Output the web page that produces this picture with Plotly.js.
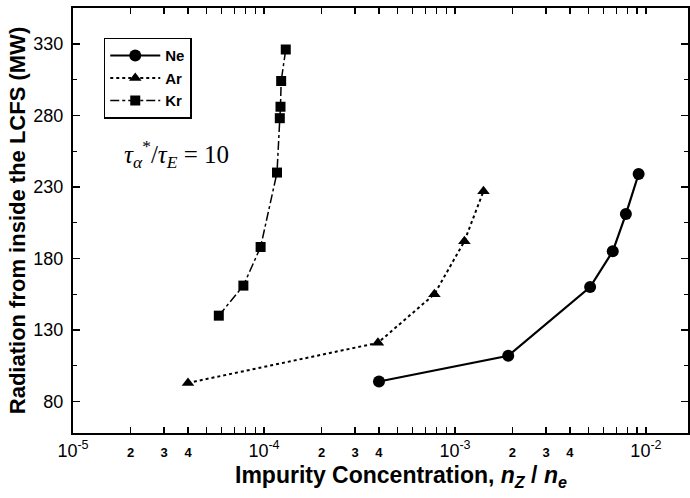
<!DOCTYPE html>
<html>
<head>
<meta charset="utf-8">
<script src="https://cdn.plot.ly/plotly-3.0.1.min.js"></script>
<style>html,body{margin:0;padding:0;background:#fff;}#chart{width:690px;height:498px;}</style>
</head>
<body>
<div id="chart"></div>
<script>
// Data
const neX = [4.0e-4, 1.9e-3, 5.1e-3, 6.7e-3, 7.85e-3, 9.15e-3];
const neY = [94, 112, 160, 185, 211, 239];
const arX = [4.0e-5, 3.95e-4, 7.8e-4, 1.12e-3, 1.41e-3];
const arY = [93, 121, 155, 192, 227];
const krX = [5.8e-5, 7.8e-5, 9.6e-5, 1.17e-4, 1.21e-4, 1.22e-4, 1.23e-4, 1.30e-4];
const krY = [140, 161, 188, 240, 278, 286, 304, 326];

const D = (s) => '<span style="font-size:13px"><b>' + s + '</b></span>';
const P = (e) => '10<sup>' + e + '</sup>';
const xTickVals = [1e-5,2e-5,3e-5,4e-5,5e-5,6e-5,7e-5,8e-5,9e-5,
                   1e-4,2e-4,3e-4,4e-4,5e-4,6e-4,7e-4,8e-4,9e-4,
                   1e-3,2e-3,3e-3,4e-3,5e-3,6e-3,7e-3,8e-3,9e-3,
                   1e-2,2e-2];
const xTickText = [P("-5"),D("2"),D("3"),D("4"),"","","","","",
                   P("-4"),D("2"),D("3"),D("4"),"","","","","",
                   P("-3"),D("2"),D("3"),D("4"),"","","","","",
                   P("-2"),""];
const yTickVals = [80,130,180,230,280,330];

const font = "Liberation Sans, Arial, sans-serif";

const traces = [
  {x: neX, y: neY, name: "Ne", mode: "lines+markers", type: "scatter",
   line: {color: "black", width: 2.2, dash: "solid"},
   marker: {symbol: "circle", size: 12, color: "black"}},
  {x: arX, y: arY, name: "Ar", mode: "lines+markers", type: "scatter",
   line: {color: "black", width: 2, dash: "dot"},
   marker: {symbol: "triangle-up", size: 11, color: "black"}},
  {x: krX, y: krY, name: "Kr", mode: "lines+markers", type: "scatter",
   line: {color: "black", width: 1.5, dash: "dashdot"},
   marker: {symbol: "square", size: 10, color: "black"}}
];

const layout = {
  width: 690, height: 498,
  margin: {l: 73, r: 2, t: 8, b: 65},
  paper_bgcolor: "white", plot_bgcolor: "white",
  font: {family: font, color: "black", size: 15},
  showlegend: true,
  legend: {x: 0.05, y: 0.93, xanchor: "left", yanchor: "top",
           bgcolor: "white", bordercolor: "black", borderwidth: 1.5,
           font: {family: font, size: 15, color: "black", weight: "bold"},
           itemwidth: 50, tracegroupgap: 0},
  xaxis: {type: "log", range: [-5, -1.78],
          tickmode: "array", tickvals: xTickVals, ticktext: xTickText,
          ticks: "inside", ticklen: 6, tickwidth: 1.5, tickcolor: "black",
          showline: true, linecolor: "black", linewidth: 2, mirror: "ticks",
          showgrid: false, zeroline: false,
          tickfont: {family: font, size: 18, color: "black"}},
  yaxis: {range: [58, 355],
          tickmode: "array", tickvals: yTickVals,
          ticks: "inside", ticklen: 7, tickwidth: 1.5, tickcolor: "black",
          minor: {tickmode: "linear", tick0: 80, dtick: 25, ticks: "inside", ticklen: 4, tickwidth: 1.2, tickcolor: "black", showgrid: false},
          showline: true, linecolor: "black", linewidth: 2, mirror: "ticks",
          showgrid: false, zeroline: false,
          ticklabelstandoff: 4,
          tickfont: {family: font, size: 18, color: "black"},
          title: {text: "<b>Radiation from inside the LCFS (MW)</b>",
                  font: {family: font, size: 22, color: "black"}, standoff: 2}},
  annotations: [{
    xref: "paper", yref: "paper", x: 0.168, y: 0.657, xanchor: "center", yanchor: "middle",
    showarrow: false,
    text: "<i>τ</i><sub><i>α</i></sub><sup>*</sup>/<i>τ</i><sub><i>E</i></sub> = 10",
    font: {family: "Liberation Serif, Times New Roman, serif", size: 25, color: "black"}
  }, {
    xref: "paper", yref: "paper", x: 0.533, y: -0.103, xanchor: "center", yanchor: "middle",
    showarrow: false,
    text: "<b>Impurity Concentration, <i>n<sub>Z</sub></i> / <i>n<sub>e</sub></i></b>",
    font: {family: font, size: 23, color: "black"}
  }]
};

Plotly.newPlot("chart", traces, layout, {displayModeBar: false, staticPlot: true});
</script>
</body>
</html>
